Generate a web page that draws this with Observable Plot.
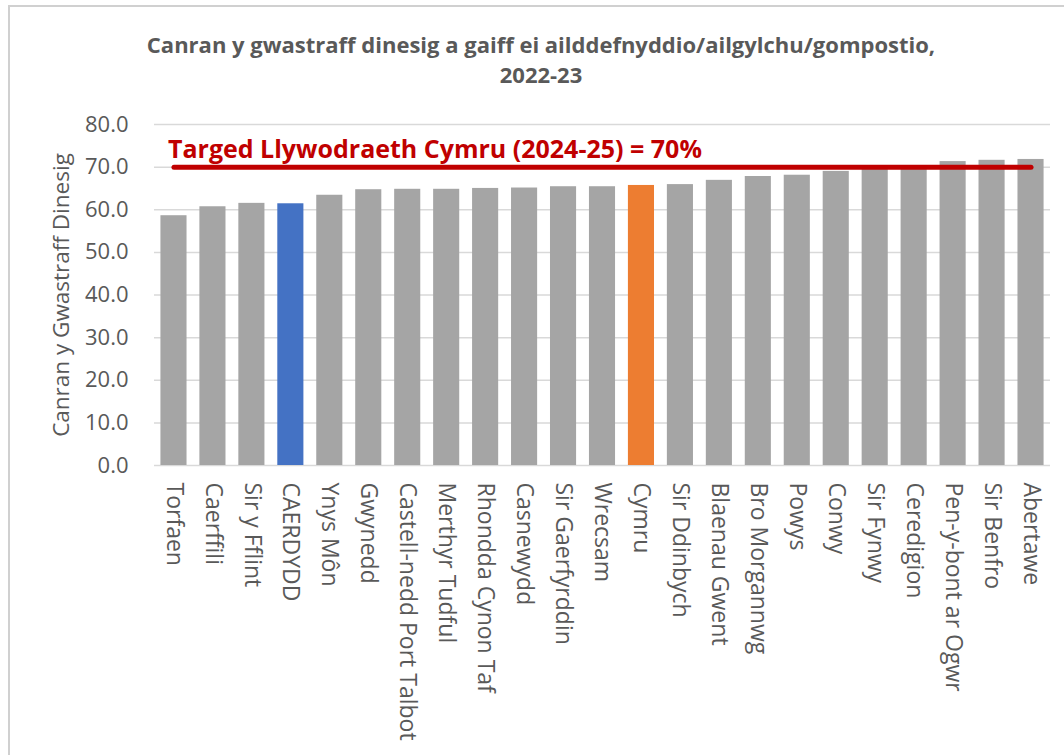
<!DOCTYPE html>
<html>
<head>
<meta charset="utf-8">
<script src="https://cdn.jsdelivr.net/npm/d3@7"></script>
<script src="https://cdn.jsdelivr.net/npm/@observablehq/plot@0.6"></script>
<style>
  html, body { margin: 0; padding: 0; background: #fff; overflow: hidden; width: 1064px; height: 755px; }
  #frame { position: absolute; left: 8px; top: 5px; width: 1100px; height: 800px; border: 2px solid #d0d0d0; box-sizing: border-box; }
  #title { position: absolute; left: 0; top: 29px; width: 1082px; text-align: center; font-family: "Open Sans", sans-serif; font-weight: bold; font-size: 22px; line-height: 30px; color: #595959; }
  #chart { position: absolute; left: 0; top: 90px; }
</style>
</head>
<body>
<div id="frame"></div>
<div id="title">Canran y gwastraff dinesig a gaiff ei ailddefnyddio/ailgylchu/gompostio,<br>2022-23</div>
<div id="chart"></div>
<script>
const categories = ["Torfaen", "Caerffili", "Sir y Fflint", "CAERDYDD", "Ynys Môn", "Gwynedd",
  "Castell-nedd Port Talbot", "Merthyr Tudful", "Rhondda Cynon Taf", "Casnewydd", "Sir Gaerfyrddin",
  "Wrecsam", "Cymru", "Sir Ddinbych", "Blaenau Gwent", "Bro Morgannwg", "Powys", "Conwy",
  "Sir Fynwy", "Ceredigion", "Pen-y-bont ar Ogwr", "Sir Benfro", "Abertawe"];
const values = [58.6, 60.7, 61.5, 61.4, 63.4, 64.7, 64.8, 64.8, 65.0, 65.1, 65.4,
  65.4, 65.7, 65.9, 66.9, 67.8, 68.1, 69.0, 69.6, 69.9, 71.3, 71.6, 71.8];
const yTicks = [0, 10, 20, 30, 40, 50, 60, 70, 80];
const target = 70;
const targetLabel = "Targed Llywodraeth Cymru (2024-25) = 70%";
const yLabel = "Canran y Gwastraff Dinesig";
const highlight = { "CAERDYDD": "#4472C4", "Cymru": "#ED7D31" };
const defaultColor = "#A5A5A5";

const data = categories.map((name, i) => ({ name, value: values[i] }));

const chart = Plot.plot({
  width: 1064,
  height: 665,
  marginTop: 34,
  marginBottom: 290,
  marginLeft: 154,
  marginRight: 14,
  style: { fontFamily: "'Open Sans', sans-serif", fontSize: "22px", color: "#595959", background: "transparent", overflow: "visible" },
  x: { domain: categories, paddingInner: 0.33, paddingOuter: 0.165, round: false, label: null },
  y: { domain: [0, 80], label: null },
  color: { type: "identity" },
  marks: [
    Plot.ruleY(yTicks, { stroke: "#d9d9d9", strokeWidth: 1.5 }),
    Plot.barY(data, { x: "name", y: "value", fill: d => highlight[d.name] || defaultColor }),
    Plot.axisY({ ticks: yTicks, tickFormat: d3.format(".1f"), tickSize: 0, tickPadding: 26, fill: "#595959", fontSize: 22, label: null }),
    Plot.axisX({ tickRotate: 90, tickSize: 0, tickPadding: 17, fill: "#595959", fontSize: 23, label: null }),
    Plot.line([categories[0], categories[categories.length - 1]], {
      x: d => d, y: () => target, stroke: "#C00000", strokeWidth: 5, strokeLinecap: "round"
    }),
    Plot.text([targetLabel], {
      x: () => categories[0], y: () => target, text: d => d, textAnchor: "start", lineAnchor: "bottom",
      dx: -6, dy: -9, fill: "#C00000", fontWeight: "bold", fontSize: 25
    }),
    Plot.text([yLabel], { frameAnchor: "left", textAnchor: "middle", rotate: -90, dx: -93, text: d => d, fontSize: 22.5, fill: "#595959" })
  ]
});
document.getElementById("chart").appendChild(chart);
</script>
</body>
</html>
